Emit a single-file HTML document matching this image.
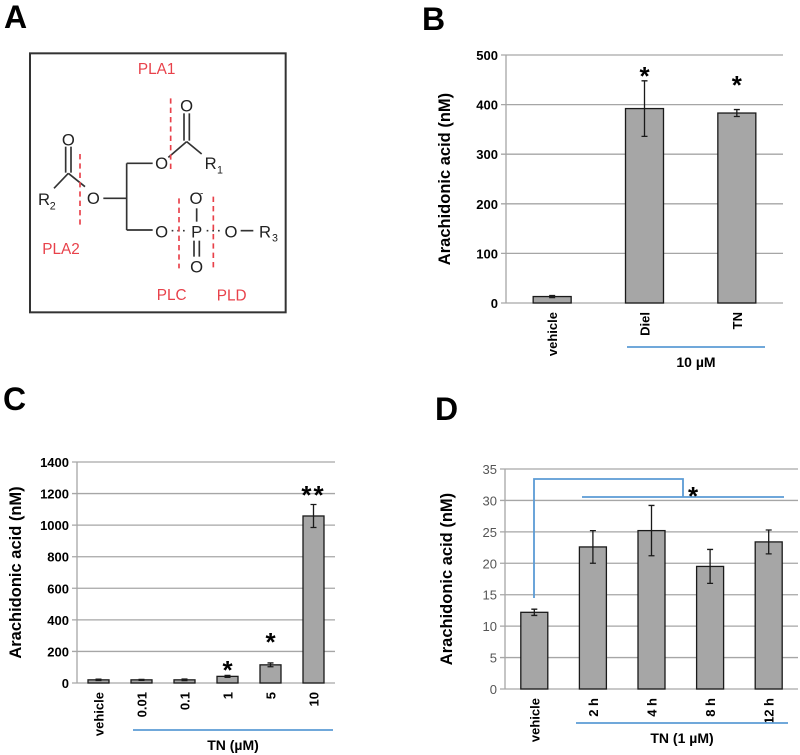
<!DOCTYPE html>
<html><head><meta charset="utf-8">
<style>
body{margin:0;background:#fff;width:800px;height:755px;overflow:hidden;font-family:"Liberation Sans",Arial,sans-serif}
svg{position:absolute;left:0;top:0}
</style></head>
<body>
<svg id="fig" width="800" height="755" viewBox="0 0 800 755" xmlns="http://www.w3.org/2000/svg">
<text x="4" y="28" font-size="32" font-weight="bold" fill="#000">A</text>
<g transform="scale(0.3333333)" font-family="Liberation Sans, Arial, sans-serif" fill="#222">
 <rect x="90" y="160" width="767" height="777" fill="none" stroke="#333" stroke-width="6"/>
 <g stroke="#333" stroke-width="5" fill="none">
  <line x1="197" y1="440" x2="197" y2="518"/><line x1="213" y1="440" x2="213" y2="518"/>
  <line x1="205" y1="520" x2="162" y2="565"/><line x1="205" y1="520" x2="255" y2="560"/>
  <line x1="310" y1="595" x2="380" y2="595"/>
  <line x1="380" y1="490" x2="380" y2="690"/>
  <line x1="380" y1="490" x2="458" y2="490"/>
  <line x1="505" y1="472" x2="560" y2="425"/>
  <line x1="552" y1="340" x2="552" y2="422"/><line x1="568" y1="340" x2="568" y2="422"/>
  <line x1="560" y1="425" x2="605" y2="462"/>
  <line x1="380" y1="690" x2="458" y2="690"/>
  <line x1="590" y1="625" x2="590" y2="665"/>
  <line x1="582" y1="722" x2="582" y2="770"/><line x1="598" y1="722" x2="598" y2="770"/>
  <line x1="722" y1="692" x2="760" y2="692"/>
  <line x1="515" y1="692" x2="560" y2="692" stroke-dasharray="5,12"/>
  <line x1="620" y1="692" x2="665" y2="692" stroke-dasharray="5,12"/>
 </g>
 <g font-size="50" text-anchor="middle">
  <text x="205" y="437">O</text><text x="560" y="335">O</text>
  <text x="280" y="612">O</text><text x="485" y="507">O</text>
  <text x="485" y="712">O</text><text x="590" y="712">P</text>
  <text x="588" y="612">O</text><text x="605" y="590" font-size="30">-</text>
  <text x="590" y="817">O</text><text x="693" y="712">O</text>
  <text x="132" y="615">R</text><text x="158" y="628" font-size="32">2</text>
  <text x="632" y="507">R</text><text x="660" y="520" font-size="32">1</text>
  <text x="795" y="712">R</text><text x="825" y="725" font-size="32">3</text>
 </g>
 <g stroke="#e8414a" stroke-width="5" stroke-dasharray="16,12">
  <line x1="512" y1="295" x2="512" y2="510"/><line x1="240" y1="462" x2="240" y2="680"/>
  <line x1="537" y1="595" x2="537" y2="805"/><line x1="640" y1="590" x2="640" y2="805"/>
 </g>
 <g fill="#e8414a" font-size="46" text-anchor="middle">
  <text x="470" y="222">PLA1</text>
  <text x="183" y="762">PLA2</text>
  <text x="515" y="900">PLC</text>
  <text x="695" y="902">PLD</text>
 </g>
</g>
<text x="422" y="30" font-size="32" font-weight="bold">B</text>
<text x="3" y="410" font-size="32" font-weight="bold">C</text>
<text x="435" y="420" font-size="32" font-weight="bold">D</text>
<g id="gB"></g><g id="gC"></g><g id="gD"></g>
</svg>
<script>
// Panel B data
const bCats = ["vehicle","Diel","TN"];
const bVals = [13, 392, 383];
const bErr = [2, 56, 7];
const bStars = ["", "*", "*"];
const bStarVals = [0, 468, 450];
const bTicks = [0,100,200,300,400,500];
// Panel C data
const cCats = ["vehicle","0.01","0.1","1","5","10"];
const cVals = [20, 20, 20, 42, 115, 1058];
const cErr = [4, 3, 5, 6, 12, 73];
const cStars = ["", "", "", "*", "*", "**"];
const cStarVals = [0, 0, 0, 114, 291, 1222];
const cTicks = [0,200,400,600,800,1000,1200,1400];
// Panel D data
const dCats = ["vehicle","2 h","4 h","8 h","12 h"];
const dVals = [12.2, 22.6, 25.2, 19.5, 23.4];
const dErr = [0.5, 2.6, 4.0, 2.7, 1.9];
const dTicks = [0,5,10,15,20,25,30,35];

const NS = "http://www.w3.org/2000/svg";
function mk(parent, tag, attrs, text){
  const e = document.createElementNS(NS, tag);
  for (const k in attrs) e.setAttribute(k, attrs[k]);
  if (text !== undefined) e.textContent = text;
  parent.appendChild(e); return e;
}
function chart(g, cfg){
  const {x0,x1,y0,y1,max,cats,vals,err,stars,starVals,ticks,barW,boldTicks,tickColor} = cfg;
  const ys = v => y0 - (v/max)*(y0-y1);
  const bw = (x1-x0)/cats.length;
  const xs = i => x0 + bw*(i+0.5);
  ticks.forEach(t=>{
    const gl = mk(g,"line",{x1:x0-5,x2:x1,y1:ys(t),y2:ys(t),stroke:"#a6a6a6","stroke-width":1.3});
    
    
    const tl = mk(g,"text",{x:x0-8,y:ys(t)+5,"text-anchor":"end","font-size":13,"font-weight":boldTicks?"bold":"normal",fill:tickColor},String(t));
    
    
  });
  const ax = mk(g,"line",{x1:x0,x2:x0,y1:y1,y2:y0,stroke:"#a6a6a6","stroke-width":1.3});
  
  
  cats.forEach((c,i)=>{
    const cx = xs(i), v = vals[i];
    const r = mk(g,"rect",{x:cx-barW/2,y:ys(v),width:barW,height:y0-ys(v),fill:"#a6a6a6",stroke:"#1a1a1a","stroke-width":1.3});
    
    
    const e1 = ys(v+err[i]), e2 = ys(v-err[i]);
    const eb = mk(g,"path",{d:`M${cx},${e1}V${e2}M${cx-3},${e1}H${cx+3}M${cx-3},${e2}H${cx+3}`,stroke:"#1a1a1a","stroke-width":1.3,fill:"none"});
    
    
    if (stars && stars[i]){
      const s = mk(g,"text",{x:cx,y:ys(starVals[i])+14,"text-anchor":"middle","font-size":26,"font-weight":"bold","letter-spacing":stars[i].length>1?"2":"0"},stars[i]);
      
      
    }
    const lx = cx+5, ly = y0+9;
    const t = mk(g,"text",{x:lx,y:ly,"text-anchor":"end","font-size":13,"font-weight":"bold",transform:`rotate(-90 ${lx} ${ly})`},c);
    
    
  });
  const yt = mk(g,"text",{x:cfg.titleX,y:(y0+y1)/2,"text-anchor":"middle","font-size":16.5,"font-weight":"bold",transform:`rotate(-90 ${cfg.titleX} ${(y0+y1)/2})`},"Arachidonic acid (nM)");
  
  
  const bl = mk(g,"line",{x1:cfg.lineX1,x2:cfg.lineX2,y1:cfg.lineY,y2:cfg.lineY,stroke:"#5b9bd5","stroke-width":1.8});
  
  
  const gt = mk(g,"text",{x:(cfg.lineX1+cfg.lineX2)/2,y:cfg.lineY+20,"text-anchor":"middle","font-size":14,"font-weight":"bold"},cfg.group);
  
  
  return {ys,xs};
}
const gB = document.getElementById('gB');


chart(gB,{x0:506,x1:783,y0:303,y1:55,max:500,cats:bCats,vals:bVals,err:bErr,stars:bStars,starVals:bStarVals,ticks:bTicks,barW:38,boldTicks:true,tickColor:"#000",titleX:450,lineX1:627,lineX2:765,lineY:347,group:"10 µM"});
const gC = document.getElementById('gC');


chart(gC,{x0:77,x1:335,y0:683,y1:462,max:1400,cats:cCats,vals:cVals,err:cErr,stars:cStars,starVals:cStarVals,ticks:cTicks,barW:21,boldTicks:true,tickColor:"#000",titleX:21,lineX1:133,lineX2:333,lineY:730,group:"TN (µM)"});
const gD = document.getElementById('gD');


chart(gD,{x0:505,x1:798,y0:689,y1:469,max:35,cats:dCats,vals:dVals,err:dErr,stars:null,starVals:null,ticks:dTicks,barW:27,boldTicks:false,tickColor:"#555",titleX:452,lineX1:576,lineX2:788,lineY:723,group:"TN (1 µM)"});
const br = mk(gD,"path",{d:`M534,598V479H683V497M582,497H784`,stroke:"#5b9bd5","stroke-width":1.8,fill:"none"});


const bs = mk(gD,"text",{x:693,y:505,"text-anchor":"middle","font-size":26,"font-weight":"bold"},"*");


</script>
</body></html>
